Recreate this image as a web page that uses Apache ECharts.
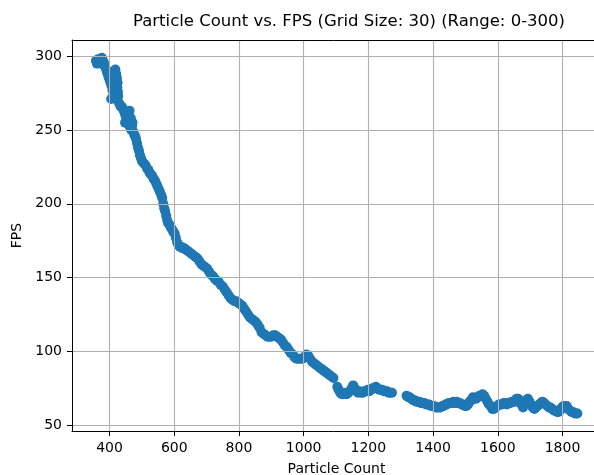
<!DOCTYPE html>
<html><head><meta charset="utf-8">
<script src="https://cdn.jsdelivr.net/npm/echarts@6/dist/echarts.min.js"></script>
<style>html,body{margin:0;padding:0;background:#fff}#c{width:594px;height:475px}</style>
</head><body><div id="c"></div>
<script>
const particleCount = [
358,361,364,367,370,373,376,379,382,385,388,391,394,397,400,403,406,409,411,405,
415,418,421,423,425,424,426,427,425,430,434,438,442,446,449,452,455,458,461,464,
467,470,473,476,479,482,485,488,491,494,497,500,504,508,512,516,520,524,528,532,
536,540,544,548,552,556,560,563,566,569,572,575,578,581,585,589,593,597,601,605,
609,613,617,621,625,630,636,642,648,654,660,666,672,678,684,690,696,702,708,714,
720,726,732,738,744,750,756,762,768,774,780,786,792,798,804,810,816,822,828,834,
840,846,852,858,864,870,876,882,888,894,900,906,912,918,924,930,936,942,948,954,
960,966,972,978,984,990,996,1002,1008,1014,1020,1026,1032,1038,1044,1050,1056,1062,1068,1074,
1080,1086,1092,
1104,1108,1113,1118,1123,1128,1133,1138,1143,1148,1153,1158,1163,1168,1173,1178,1183,1188,1193,1198,
1203,1208,1213,1218,1223,1228,1233,1238,1243,1248,1253,1258,1263,1268,1273,
1318,1323,1328,1333,1338,1343,1348,1353,1358,1363,1368,1373,1378,1383,1388,1393,1398,1403,1408,1413,
1418,1423,1428,1433,1438,1443,1448,1453,1458,1463,1468,1473,1478,1483,1488,1493,1498,1503,1508,1513,
1518,1523,1528,1533,1538,1543,1548,1553,1558,1563,1568,1573,1578,1583,1588,1593,1598,1603,1608,1613,
1618,1623,1628,1633,1638,1643,1648,1653,1658,1663,1668,1673,1678,1683,1688,1693,1698,1703,1708,1713,
1718,1723,1728,1733,1738,1743,1748,1753,1758,1763,1768,1773,1778,1783,1788,1793,1798,1803,1808,1813,
1818,1823,1828,1833,1838,1843,1846,
448,455,462,466,471
];
const fps = [
297,295,298,296,297,295,299,297,296,294,292,290,288,286,284,282,280,277,273,271,
290,291,288,285,282,279,276,273,270,268,266,266,264,262,260,258,257,255,253,252,
250,253,249,247,246,244,241,238,236,233,231,229,228,227,226,224,223,221,220,219,
217,216,214,212,210,208,206,204,200,197,195,192,189,187,186,184,183,181,180,177,
174,172,171,171,170,170,169,168,167,166,165,164,163,161,159,158,157,156,154,152,
151,149,148,147,145,144,142,140,138,136,135,134,134,133,132,131,129,127,125,123,
122,121,120,118,116,113,112,111,110,110,110,111,111,110,109,108,106,104,103,101,
99,98,96,95,95,95,95,96,98,97,95,93,92,91,90,89,88,87,86,85,
84,83,82,
76,74,72,71,71,72,71,72,73,75,77,75,73,72,73,72,72,73,73,74,
73,74,75,75,76,75,74,74,74,73,73,73,72,72,72,
70,69,69,68,67,67,66,66,66,65,65,65,64,64,64,63,63,63,62,62,
62,62,63,63,64,64,65,65,65,66,65,66,65,65,64,64,63,63,64,66,
67,69,68,68,69,70,70,71,70,68,66,64,63,61,61,62,63,64,64,64,
65,65,64,65,65,66,66,66,68,68,66,64,62,65,67,68,66,64,62,61,
62,63,64,65,66,65,64,63,62,62,61,60,60,59,59,60,62,63,62,63,
61,60,59,59,58,58,58,
255,262,263,258,255
];
const xTicks = [400,600,800,1000,1200,1400,1600,1800];
const yTicks = [50,100,150,200,250,300];

const FONT = 'DejaVu Sans';
const chart = echarts.init(document.getElementById('c'), null, {renderer: 'canvas'});
const pts = particleCount.map((x, i) => [x, fps[i]]);
const plain = v => String(v);
chart.setOption({
  animation: false,
  backgroundColor: '#fff',
  title: {
    text: 'Particle Count vs. FPS (Grid Size: 30) (Range: 0-300)',
    left: 128, top: 8,
    textStyle: {fontFamily: FONT, fontSize: 16.5, fontWeight: 'normal', color: '#000'}
  },
  grid: {left: 72, top: 40, width: 529, height: 391, show: false, outerBoundsMode: 'none', containLabel: false},
  xAxis: [{
    type: 'value', min: 284, max: 1919,
    name: 'Particle Count', nameLocation: 'middle', nameGap: 31,
    nameTextStyle: {fontFamily: FONT, fontSize: 14, color: '#000'},
    axisLine: {show: true, onZero: false, lineStyle: {color: '#000', width: 1}},
    axisTick: {show: true, length: 5, customValues: xTicks, lineStyle: {color: '#000', width: 1}},
    axisLabel: {customValues: xTicks, formatter: plain, margin: 10, fontFamily: FONT, fontSize: 14, color: '#000'},
    splitLine: {show: true, lineStyle: {color: '#b0b0b0', width: 1.1}}
  }, {
    type: 'value', min: 284, max: 1919, position: 'top',
    axisLine: {show: true, onZero: false, lineStyle: {color: '#000', width: 1}},
    axisTick: {show: false}, axisLabel: {show: false}, splitLine: {show: false}
  }],
  yAxis: {
    type: 'value', min: 46.1, max: 311,
    name: 'FPS', nameLocation: 'middle', nameGap: 39,
    nameTextStyle: {fontFamily: FONT, fontSize: 14, color: '#000'},
    axisLine: {show: true, onZero: false, lineStyle: {color: '#000', width: 1}},
    axisTick: {show: true, length: 5, customValues: yTicks, lineStyle: {color: '#000', width: 1}},
    axisLabel: {customValues: yTicks, formatter: plain, margin: 10, fontFamily: FONT, fontSize: 14, color: '#000'},
    splitLine: {show: true, lineStyle: {color: '#b0b0b0', width: 1.1}}
  },
  series: [{
    type: 'scatter', data: pts, symbolSize: 10, z: -1,
    itemStyle: {color: '#1f77b4', opacity: 1}
  }]
});
</script>
</body></html>
